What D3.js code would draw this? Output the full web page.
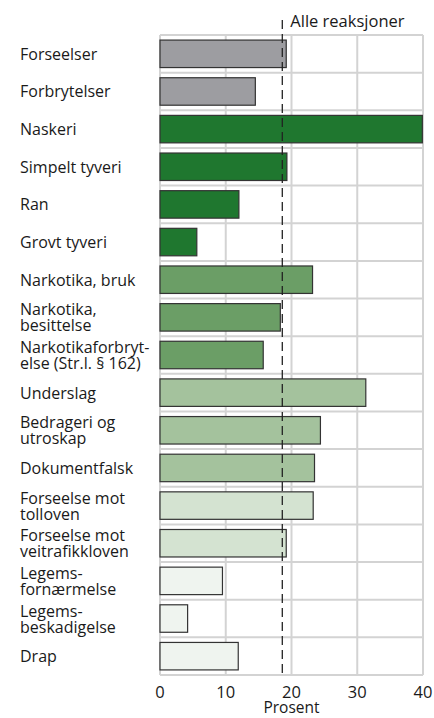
<!DOCTYPE html>
<html>
<head>
<meta charset="utf-8">
<script src="https://cdn.jsdelivr.net/npm/d3@7"></script>
<style>
  body { margin: 0; background: #fff; }
  text { font-family: "Open Sans", sans-serif; fill: #1a1a1a; }
</style>
</head>
<body>
<div id="chart-area"></div>
<script>
// categories (label lines) and share in percent
const categories = [
  ["Forseelser"],
  ["Forbrytelser"],
  ["Naskeri"],
  ["Simpelt tyveri"],
  ["Ran"],
  ["Grovt tyveri"],
  ["Narkotika, bruk"],
  ["Narkotika,", "besittelse"],
  ["Narkotikaforbryt-", "else (Str.l. § 162)"],
  ["Underslag"],
  ["Bedrageri og", "utroskap"],
  ["Dokumentfalsk"],
  ["Forseelse mot", "tolloven"],
  ["Forseelse mot", "veitrafikkloven"],
  ["Legems-", "fornærmelse"],
  ["Legems-", "beskadigelse"],
  ["Drap"]
]
const values = [19.2, 14.5, 39.9, 19.3, 12.0, 5.6, 23.2, 18.3, 15.7, 31.3, 24.4, 23.5, 23.3, 19.2, 9.5, 4.2, 11.9]
// colour group of each bar
const groups = [0, 0, 1, 1, 1, 1, 2, 2, 2, 3, 3, 3, 4, 4, 5, 5, 5]
const groupColors = ["#9d9da1", "#1f772f", "#6b9e66", "#a4c29d", "#d4e3d1", "#eff4ef"]
const xTicks = [0, 10, 20, 30, 40]
const allReactions = 18.6
const refLabel = "Alle reaksjoner"
const xTitle = "Prosent"

const WIDTH = 434
const HEIGHT = 718
const MARGIN = { LEFT: 160, RIGHT: 11, TOP: 35, BOTTOM: 43 }

const svg = d3.select("#chart-area").append("svg")
  .attr("width", WIDTH)
  .attr("height", HEIGHT)

const x = d3.scaleLinear().domain([0, 40]).range([MARGIN.LEFT, WIDTH - MARGIN.RIGHT])
const y = d3.scaleBand()
  .domain(d3.range(categories.length))
  .range([MARGIN.TOP, HEIGHT - MARGIN.BOTTOM])
  .paddingInner(0.27)
  .paddingOuter(0.135)

const step = y.step()
const plotTop = MARGIN.TOP
const plotBottom = HEIGHT - MARGIN.BOTTOM

// grid
const grid = svg.append("g").attr("stroke", "#d3d3d3").attr("stroke-width", 2)
grid.selectAll(".v").data(xTicks).join("line")
  .attr("x1", d => x(d)).attr("x2", d => x(d))
  .attr("y1", plotTop).attr("y2", plotBottom)
grid.selectAll(".h").data(d3.range(categories.length + 1)).join("line")
  .attr("x1", x(0)).attr("x2", x(40))
  .attr("y1", i => plotTop + i * step).attr("y2", i => plotTop + i * step)

// bars
svg.append("g").selectAll("rect").data(values).join("rect")
  .attr("x", x(0))
  .attr("y", (d, i) => y(i))
  .attr("width", d => x(d) - x(0))
  .attr("height", y.bandwidth())
  .attr("fill", (d, i) => groupColors[groups[i]])
  .attr("stroke", "#333")
  .attr("stroke-width", 1.2)

// category labels
const labels = svg.append("g").selectAll("text").data(categories).join("text")
  .attr("x", 20)
  .attr("font-size", 16)
labels.each(function (lines, i) {
  const cy = plotTop + (i + 0.5) * step + 6
  d3.select(this).selectAll("tspan").data(lines).join("tspan")
    .attr("x", 20)
    .attr("y", (l, j) => lines.length === 1 ? cy : cy + (j - 0.5) * 16)
    .text(l => l)
})

// reference line
svg.append("line")
  .attr("x1", x(allReactions)).attr("x2", x(allReactions))
  .attr("y1", 20).attr("y2", plotBottom)
  .attr("stroke", "#222")
  .attr("stroke-width", 1.3)
  .attr("stroke-dasharray", "9,5")
svg.append("text")
  .attr("x", x(allReactions) + 8)
  .attr("y", 27)
  .attr("font-size", 16.5)
  .text(refLabel)

// x axis
svg.append("g").selectAll("text").data(xTicks).join("text")
  .attr("x", d => x(d))
  .attr("y", plotBottom + 23)
  .attr("text-anchor", "middle")
  .attr("font-size", 16.5)
  .text(d => d)
svg.append("text")
  .attr("x", (x(0) + x(40)) / 2)
  .attr("y", plotBottom + 38)
  .attr("text-anchor", "middle")
  .attr("font-size", 15.5)
  .text(xTitle)
</script>
</body>
</html>
